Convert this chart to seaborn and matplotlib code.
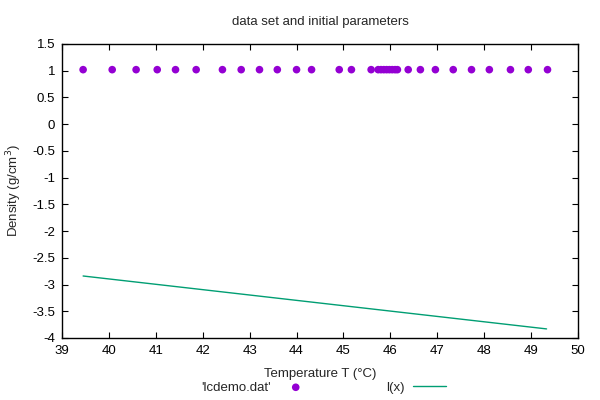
import numpy as np
import pandas as pd
import seaborn as sns
import matplotlib.pyplot as plt
from matplotlib.ticker import FormatStrFormatter, MultipleLocator

# lcdemo.dat points (temperature in C, density in g/cm3)
temperature = [39.45, 40.07, 40.58, 41.03, 41.42, 41.86, 42.42, 42.82, 43.21,
               43.59, 44.00, 44.32, 44.91, 45.17, 45.59, 45.74, 45.80, 45.86,
               45.92, 45.98, 46.04, 46.10, 46.15, 46.38, 46.64, 46.96, 47.34,
               47.73, 48.11, 48.56, 48.94, 49.35]
density = [1.02] * len(temperature)

# l(x) with the initial parameters, endpoints
lx_x = [39.45, 49.33]
lx_y = [-2.84, -3.83]

x_ticks = list(range(39, 51))
y_ticks = [-4, -3.5, -3, -2.5, -2, -1.5, -1, -0.5, 0, 0.5, 1, 1.5]

sns.set_style('ticks')
plt.rcParams['font.family'] = ['Liberation Sans', 'DejaVu Sans']
plt.rcParams['font.size'] = 9.5

points = pd.DataFrame({'T': temperature, 'rho': density})
fit = pd.DataFrame({'T': lx_x, 'rho': lx_y})

fig = plt.figure(figsize=(6, 4), dpi=100, facecolor='white')
ax = fig.add_axes([62 / 600, 62 / 400, 516 / 600, 294 / 400])

sns.scatterplot(data=points, x='T', y='rho', ax=ax, color='#9400D3', s=30,
                edgecolor='none', label="'lcdemo.dat'")
sns.lineplot(data=fit, x='T', y='rho', ax=ax, color='#009E73', linewidth=1,
             label='l(x)')

ax.set_xlim(39, 50)
ax.set_ylim(-4, 1.5)
ax.set_xticks(x_ticks)
ax.set_yticks(y_ticks)
ax.yaxis.set_major_formatter(FormatStrFormatter('%g'))
ax.tick_params(direction='in', top=True, right=True, length=4.5, width=0.8,
               colors='black', labelsize=9.5, pad=5)
for sp in ax.spines.values():
    sp.set_visible(True)
    sp.set_linewidth(1)
    sp.set_color('black')

ax.set_title('data set and initial parameters', fontsize=9.5, pad=14)
ax.set_xlabel('Temperature T (°C)', fontsize=9.5, labelpad=8)
ax.set_ylabel('Density (g/cm$^3$)', fontsize=9.5, labelpad=6)

# gnuplot style key below the plot: text first, then sample
leg = ax.legend(loc='upper center', bbox_to_anchor=(0.507, -0.13), ncol=2,
                frameon=False, markerfirst=False, handlelength=2.5,
                columnspacing=5.6, handletextpad=0.6, fontsize=9.5,
                borderaxespad=0)

fig.savefig('out.png', dpi=100)
